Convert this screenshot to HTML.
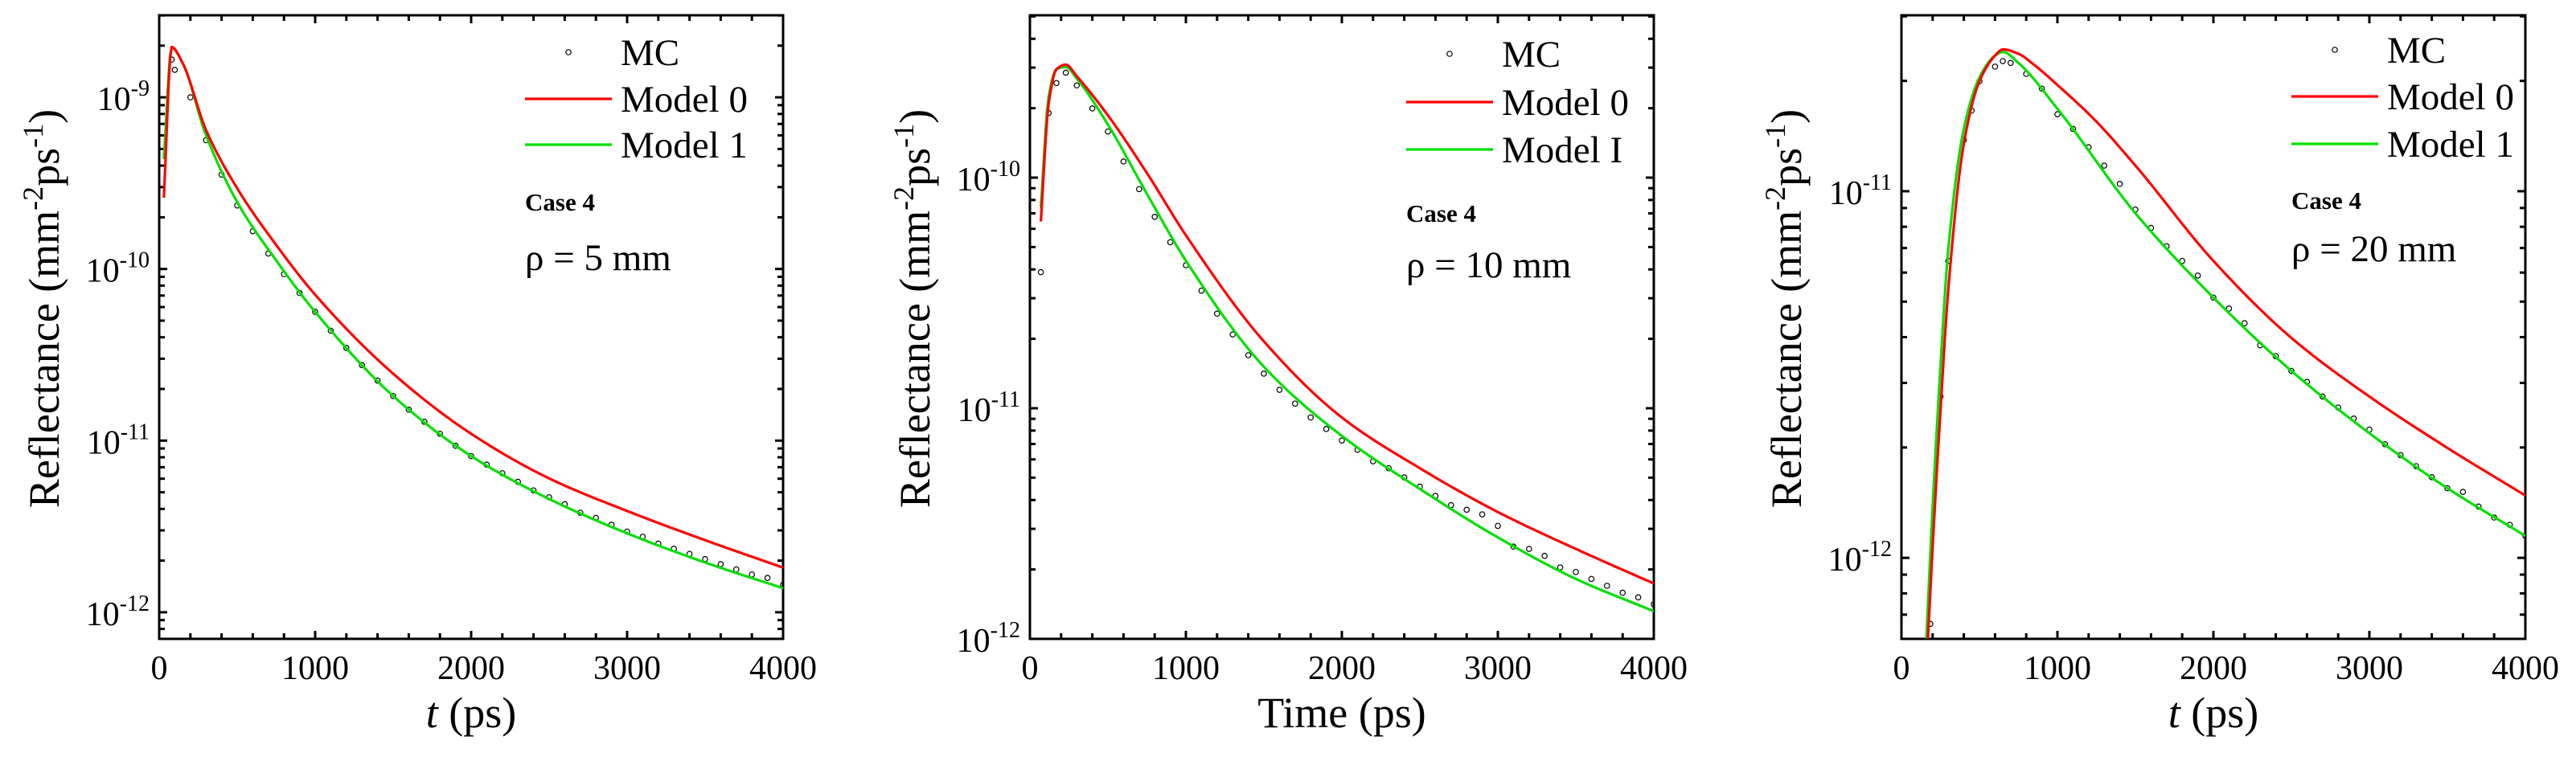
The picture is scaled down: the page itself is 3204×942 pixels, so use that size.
<!DOCTYPE html>
<html><head><meta charset="utf-8"><style>
html,body{margin:0;padding:0;background:#fff;}
svg{display:block;}
text{font-family:"Liberation Serif","Times New Roman","DejaVu Serif","Noto Serif CJK SC",serif;}
</style></head><body>
<svg id="fig" width="3204" height="942" viewBox="0 0 3204 942" xmlns="http://www.w3.org/2000/svg"></svg>
<script>
// ---------- Data (log10 of reflectance) ----------
const xTicks = [0, 1000, 2000, 3000, 4000];
const p1ModelT = [30, 80, 150, 300, 500, 750, 1000, 1500, 2000, 2500, 3000, 3500, 4000];
const p1Model0 = [-9.585, -8.707, -8.80, -9.19, -9.53, -9.86, -10.15, -10.61, -10.96, -11.22, -11.41, -11.58, -11.74];
const p1Model1 = [-9.36, -8.71, -8.80, -9.22, -9.61, -9.95, -10.25, -10.74, -11.09, -11.34, -11.54, -11.71, -11.86];
const p1McT = [80,100,200,300,400,500,600,700,800,900,1000,1100,1200,1300,1400,1500,1600,1700,1800,1900,2000,2100,2200,2300,2400,2500,2600,2700,2800,2900,3000,3100,3200,3300,3400,3500,3600,3700,3800,3900,4000];
const p1Mc = [-8.78,-8.84,-9.0,-9.25,-9.45,-9.63,-9.78,-9.91,-10.03,-10.14,-10.25,-10.36,-10.46,-10.56,-10.65,-10.74,-10.82,-10.89,-10.96,-11.03,-11.09,-11.14,-11.19,-11.24,-11.29,-11.33,-11.37,-11.42,-11.45,-11.49,-11.53,-11.56,-11.60,-11.63,-11.66,-11.69,-11.72,-11.75,-11.78,-11.80,-11.84];

const p2ModelT = [70, 120, 170, 230, 300, 500, 750, 1000, 1500, 2000, 2500, 3000, 3500, 4000];
const p2Model0 = [-10.19, -9.68, -9.53, -9.51, -9.56, -9.73, -9.98, -10.25, -10.71, -11.04, -11.26, -11.45, -11.61, -11.76];
const p2Model1 = [-10.13, -9.65, -9.53, -9.52, -9.57, -9.77, -10.07, -10.36, -10.82, -11.12, -11.35, -11.56, -11.74, -11.88];
const p2McT = [70,120,170,230,300,400,500,600,700,800,900,1000,1100,1200,1300,1400,1500,1600,1700,1800,1900,2000,2100,2200,2300,2400,2500,2600,2700,2800,2900,3000,3100,3200,3300,3400,3500,3600,3700,3800,3900,4000];
const p2Mc = [-10.41,-9.72,-9.59,-9.545,-9.60,-9.70,-9.80,-9.93,-10.05,-10.17,-10.28,-10.38,-10.49,-10.59,-10.68,-10.77,-10.85,-10.92,-10.98,-11.04,-11.09,-11.14,-11.18,-11.23,-11.26,-11.30,-11.34,-11.38,-11.42,-11.44,-11.46,-11.51,-11.60,-11.61,-11.64,-11.69,-11.71,-11.74,-11.77,-11.80,-11.82,-11.85];

const p3Model0T = [170, 200, 250, 300, 400, 500, 600, 650, 750, 850, 1000, 1250, 1500, 2000, 2500, 3000, 3500, 4000];
const p3Model0 = [-12.22, -11.97, -11.60, -11.27, -10.87, -10.70, -10.63, -10.613, -10.625, -10.655, -10.71, -10.81, -10.93, -11.19, -11.40, -11.56, -11.70, -11.83];
const p3Model1T = [160, 200, 250, 300, 400, 500, 600, 650, 750, 1000, 1500, 2000, 2500, 3000, 3500, 4000];
const p3Model1 = [-12.22, -11.86, -11.48, -11.16, -10.83, -10.69, -10.63, -10.62, -10.65, -10.775, -11.06, -11.29, -11.49, -11.66, -11.81, -11.94];
const p3McT = [185,250,300,400,450,500,600,650,700,800,900,1000,1100,1200,1300,1400,1500,1600,1700,1800,1900,2000,2100,2200,2300,2400,2500,2600,2700,2800,2900,3000,3100,3200,3300,3400,3500,3600,3700,3800,3900,4000];
const p3Mc = [-12.18,-11.56,-11.19,-10.86,-10.78,-10.70,-10.66,-10.645,-10.65,-10.68,-10.72,-10.79,-10.83,-10.88,-10.93,-10.98,-11.05,-11.10,-11.15,-11.19,-11.23,-11.29,-11.32,-11.36,-11.42,-11.45,-11.49,-11.52,-11.56,-11.59,-11.62,-11.65,-11.69,-11.72,-11.75,-11.78,-11.81,-11.82,-11.86,-11.89,-11.91,-11.94];

const NS = "http://www.w3.org/2000/svg";
const svg = document.getElementById('fig');
function mk(tag, attrs, parent) {
  const e = document.createElementNS(NS, tag);
  for (const k in attrs) e.setAttribute(k, attrs[k]);
  (parent || svg).appendChild(e);
  return e;
}
function monoPath(T, V, xs, ys) {
  const n = T.length, d = [], m = new Array(n);
  for (let i = 0; i < n - 1; i++) d.push((V[i + 1] - V[i]) / (T[i + 1] - T[i]));
  m[0] = d[0]; m[n - 1] = d[n - 2];
  for (let i = 1; i < n - 1; i++) {
    if (d[i - 1] * d[i] <= 0) m[i] = 0;
    else {
      const h0 = T[i] - T[i - 1], h1 = T[i + 1] - T[i];
      const w1 = 2 * h1 + h0, w2 = h1 + 2 * h0;
      m[i] = (w1 + w2) / (w1 / d[i - 1] + w2 / d[i]);
    }
  }
  const pts = [];
  for (let i = 0; i < n - 1; i++) {
    const h = T[i + 1] - T[i], steps = Math.max(4, Math.ceil(h / 10));
    for (let s = 0; s < steps; s++) {
      const u = s / steps, h00 = 2*u*u*u - 3*u*u + 1, h10 = u*u*u - 2*u*u + u, h01 = -2*u*u*u + 3*u*u, h11 = u*u*u - u*u;
      const v = h00 * V[i] + h10 * h * m[i] + h01 * V[i + 1] + h11 * h * m[i + 1];
      pts.push(xs(T[i] + u * h).toFixed(2) + ',' + ys(v).toFixed(2));
    }
  }
  pts.push(xs(T[n - 1]).toFixed(2) + ',' + ys(V[n - 1]).toFixed(2));
  return 'M' + pts.join(' L');
}

function panel(cfg) {
  const L = cfg.left, R = L + 776, T = 19, B = 795;
  const g = mk('g', {});
  
  
  const xs = t => L + (t / 4000) * (R - L);
  const ys = v => T + (cfg.ymax - v) / (cfg.ymax - cfg.ymin) * (B - T);
  const cid = 'clip-' + cfg.name;
  const cp = mk('clipPath', { id: cid }, g);
  mk('rect', { x: L, y: T, width: R - L, height: B - T }, cp);

  for (let t = 0; t <= 4000; t += 200) {
    const major = t % 1000 === 0, len = major ? 10 : 7, x = xs(t);
    const a = mk('line', { x1: x, y1: B, x2: x, y2: B - len, stroke: '#000', 'stroke-width': 3 }, g);
    
    
    const b = mk('line', { x1: x, y1: T, x2: x, y2: T + len, stroke: '#000', 'stroke-width': 3 }, g);
    
    
  }
  xTicks.forEach(t => {
    const tx = mk('text', { x: xs(t), y: 845, 'font-size': 42, 'text-anchor': 'middle' }, g);
    
    
    tx.textContent = String(t);
  });
  for (let d = Math.floor(cfg.ymin); d <= Math.ceil(cfg.ymax); d++) {
    for (let m = 1; m <= 9; m++) {
      const v = d + Math.log10(m);
      if (v < cfg.ymin - 1e-9 || v > cfg.ymax + 1e-9) continue;
      const y = ys(v), len = m === 1 ? 10 : 7;
      const a = mk('line', { x1: L, y1: y, x2: L + len, y2: y, stroke: '#000', 'stroke-width': 3 }, g);
      
      
      const b = mk('line', { x1: R, y1: y, x2: R - len, y2: y, stroke: '#000', 'stroke-width': 3 }, g);
      
      
      if (m === 1) {
        const tx = mk('text', { x: L - 12, y: y + 16, 'font-size': 42, 'text-anchor': 'end' }, g);
        
        
        const s1 = mk('tspan', {}, tx); s1.textContent = '10';
        const s2 = mk('tspan', { dy: -18, 'font-size': 28 }, tx); s2.textContent = String(d);
      }
    }
  }
  const fr = mk('rect', { x: L, y: T, width: R - L, height: B - T, fill: 'none', stroke: '#000', 'stroke-width': 3 }, g);
  
  

  const cg = mk('g', { 'clip-path': `url(#${cid})` }, g);
  const mcG = mk('g', {}, cg);
  
  
  cfg.mcT.forEach((t, i) => {
    const c = mk('circle', { cx: xs(t), cy: ys(cfg.mc[i]), r: 3.2, fill: 'none', stroke: '#000', 'stroke-width': 1.2 }, mcG);
    
    
  });
  const gr = mk('path', { d: monoPath(cfg.m1T, cfg.m1, xs, ys), fill: 'none', stroke: '#00e000', 'stroke-width': 3.2, 'stroke-linejoin': 'round' }, cg);
  
  
  const r = mk('path', { d: monoPath(cfg.m0T, cfg.m0, xs, ys), fill: 'none', stroke: '#ff0000', 'stroke-width': 3.2, 'stroke-linejoin': 'round' }, cg);
  
  

  const lg = mk('g', {}, g);
  
  
  const lx0 = L + cfg.legX, lx1 = lx0 + 108, tx = lx1 + 11;
  const mcc = mk('circle', { cx: (lx0 + lx1) / 2, cy: cfg.legY[0], r: 3.2, fill: 'none', stroke: '#000', 'stroke-width': 1.2 }, lg);
  
  
  const labels = ['MC', 'Model 0', cfg.m1Label];
  const cols = [null, '#ff0000', '#00e000'];
  labels.forEach((lab, i) => {
    if (cols[i]) {
      const ln = mk('line', { x1: lx0, y1: cfg.legY[i], x2: lx1, y2: cfg.legY[i], stroke: cols[i], 'stroke-width': 3.2 }, lg);
      
      
    }
    const t = mk('text', { x: tx, y: cfg.legY[i] + 16, 'font-size': 47 }, lg);
    
    
    t.textContent = lab;
  });
  const c4 = mk('text', { x: lx0, y: cfg.caseY + 11, 'font-size': 31, 'font-weight': 'bold' }, g);
  
  
  c4.textContent = 'Case 4';
  const rho = mk('text', { x: lx0, y: cfg.rhoY + 16, 'font-size': 47 }, g);
  
  
  rho.textContent = cfg.rho;

  const xt = mk('text', { x: (L + R) / 2, y: 905, 'font-size': 54, 'text-anchor': 'middle' }, g);
  
  
  if (cfg.xTitle === 't') {
    const a = mk('tspan', { 'font-style': 'italic' }, xt); a.textContent = 't';
    const b = mk('tspan', {}, xt); b.textContent = ' (ps)';
  } else xt.textContent = cfg.xTitle;
  const cx = L - 143, cy = 384;
  const yt = mk('text', { x: cx, y: cy, 'font-size': 54, 'text-anchor': 'middle', transform: `rotate(-90 ${cx} ${cy}) translate(0 18)` }, g);
  
  
  const parts = [['Reflectance (mm', 0, 54], ['-2', -20, 36], ['ps', 20, 54], ['-1', -20, 36], [')', 20, 54]];
  parts.forEach(p => { const s = mk('tspan', { dy: p[1], 'font-size': p[2] }, yt); s.textContent = p[0]; });
}

panel({ name: 'panel-rho-5', left: 198, ymin: -12.155, ymax: -8.522,
  m0T: p1ModelT, m0: p1Model0, m1T: p1ModelT, m1: p1Model1, mcT: p1McT, mc: p1Mc,
  legX: 455, legY: [65, 123, 180], caseY: 251, rhoY: 320, rho: 'ρ = 5 mm', m1Label: 'Model 1', xTitle: 't' });
panel({ name: 'panel-rho-10', left: 1281, ymin: -12, ymax: -9.296,
  m0T: p2ModelT, m0: p2Model0, m1T: p2ModelT, m1: p2Model1, mcT: p2McT, mc: p2Mc,
  legX: 468, legY: [67, 127, 186], caseY: 265, rhoY: 329, rho: 'ρ = 10 mm', m1Label: 'Model I', xTitle: 'Time (ps)' });
panel({ name: 'panel-rho-20', left: 2365, ymin: -12.221, ymax: -10.52,
  m0T: p3Model0T, m0: p3Model0, m1T: p3Model1T, m1: p3Model1, mcT: p3McT, mc: p3Mc,
  legX: 485, legY: [62, 120, 179], caseY: 249, rhoY: 309, rho: 'ρ = 20 mm', m1Label: 'Model 1', xTitle: 't' });
</script>
</body></html>
